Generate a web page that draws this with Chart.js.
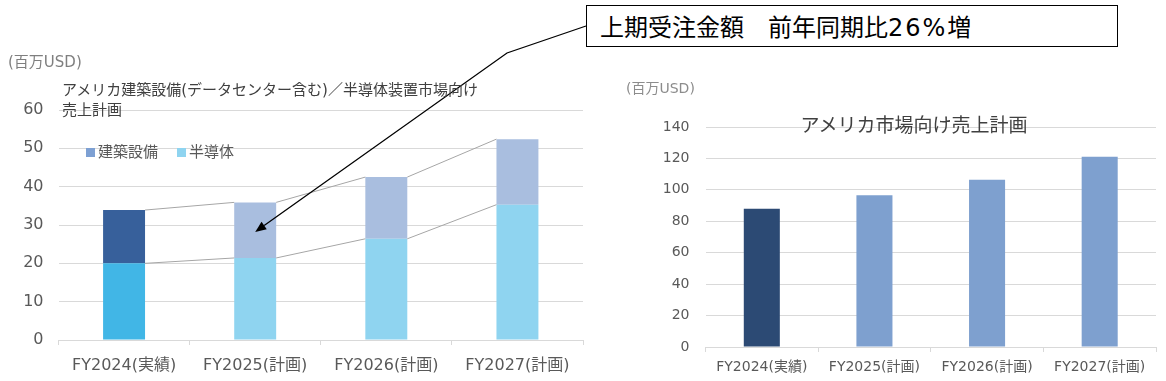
<!DOCTYPE html>
<html>
<head>
<meta charset="utf-8">
<script src="https://cdn.jsdelivr.net/npm/chart.js@4.4.1/dist/chart.umd.min.js"></script>
<style>
  html, body { margin: 0; padding: 0; background: #fff; }
  body { width: 1166px; height: 381px; position: relative; overflow: hidden;
         font-family: "DejaVu Sans", "Noto Sans CJK JP", sans-serif; }
  .abs { position: absolute; white-space: nowrap; }
  .cjk { font-family: "Noto Sans CJK JP", sans-serif; }
  #leftWrap { position: absolute; left: 0; top: 0; width: 590px; height: 381px; }
  #rightWrap { position: absolute; left: 590px; top: 0; width: 576px; height: 381px; }
  .legItem { position: absolute; top: 142px; height: 18px; line-height: 18px; font-size: 15px; color: #595959;
             font-family: "Noto Sans CJK JP", sans-serif; }
  .legItem i { display: inline-block; width: 9px; height: 9px; margin-right: 3px; vertical-align: 0px; }
  #callout { position: absolute; left: 586px; top: 5px; width: 532px; height: 42px; box-sizing: border-box;
             border: 1.5px solid #000; font-size: 24px; line-height: 39px; padding-left: 13px; color: #000; background: #fff; }
  #callout .num { letter-spacing: 2px; }
</style>
</head>
<body>
<div id="leftWrap"><canvas id="leftChart" width="590" height="381"></canvas></div>
<div id="rightWrap"><canvas id="rightChart" width="576" height="381"></canvas></div>

<div class="abs" style="left:8px; top:52px; font-size:15px; line-height:20px; color:#7f7f7f;">(百万USD)</div>
<div class="abs" style="left:62px; top:80px; font-size:15px; line-height:20px; color:#404040;">アメリカ建築設備(データセンター含む)／半導体装置市場向け<br>売上計画</div>
<div id="legend"></div>

<div class="abs" style="left:626px; top:78px; font-size:14px; line-height:20px; color:#8c8c8c;">(百万USD)</div>
<div class="abs cjk" style="left:914px; top:111px; transform:translateX(-50%); font-size:19px; line-height:26px; color:#404040;">アメリカ市場向け売上計画</div>

<div id="callout" class="cjk">上期受注金額　前年同期比<span class="num" style="font-family:'DejaVu Sans'">26%</span>増</div>

<script>
// ---- data ----
const categories = ['FY2024(実績)', 'FY2025(計画)', 'FY2026(計画)', 'FY2027(計画)'];
const seriesNames = ['半導体', '建築設備'];
const semiconductor = [20, 21.4, 26.4, 35.3];
const building = [13.9, 14.5, 16.1, 17.1];
const usMarketSales = [88, 96.5, 106.5, 121];
const leftAxis = { min: 0, max: 60, step: 10 };
const rightAxis = { min: 0, max: 140, step: 20 };
const calloutValue = 28.2; // where the arrow points within FY2025 bar

// ---- colours ----
const semiColors = ['#41B6E6', '#8FD4F0', '#8FD4F0', '#8FD4F0'];
const buildColors = ['#37609B', '#A9BEDF', '#A9BEDF', '#A9BEDF'];
const legendColors = { '建築設備': '#7DA0D3', '半導体': '#8FD4F0' };
const rightColors = ['#2C4A74', '#7EA0CF', '#7EA0CF', '#7EA0CF'];

// legend (HTML)
const legendDiv = document.getElementById('legend');
const legendOrder = [['建築設備', 86], ['半導体', 177]];
legendOrder.forEach(([name, x]) => {
  const d = document.createElement('div');
  d.className = 'legItem';
  d.style.left = x + 'px';
  d.innerHTML = '<i style="background:' + legendColors[name] + '"></i>' + name;
  legendDiv.appendChild(d);
});

const tickColor = '#595959';
const gridColor = '#D9D9D9';
const fontFamily = '"DejaVu Sans", "Noto Sans CJK JP", sans-serif';

// series lines between stacked bars + annotation arrow
const seriesLinesPlugin = {
  id: 'seriesLines',
  afterDatasetsDraw(chart) {
    const ctx = chart.ctx;
    ctx.save();
    ctx.strokeStyle = '#A6A6A6';
    ctx.lineWidth = 1;
    chart.data.datasets.forEach((ds, di) => {
      const meta = chart.getDatasetMeta(di);
      for (let i = 0; i < meta.data.length - 1; i++) {
        const a = meta.data[i], b = meta.data[i + 1];
        ctx.beginPath();
        ctx.moveTo(a.x + a.width / 2, a.y);
        ctx.lineTo(b.x - b.width / 2, b.y);
        ctx.stroke();
      }
    });
    // arrow from callout box to FY2025 bar
    const xs = chart.scales.x, ys = chart.scales.y;
    const tipX = xs.getPixelForValue(1);
    const tipY = ys.getPixelForValue(calloutValue);
    const tail = [586, 26], knee = [507, 53];
    ctx.strokeStyle = '#000';
    ctx.fillStyle = '#000';
    ctx.lineWidth = 1.3;
    const ang = Math.atan2(tipY - knee[1], tipX - knee[0]);
    const headLen = 11, headW = 4.5;
    const baseX = tipX - headLen * Math.cos(ang), baseY = tipY - headLen * Math.sin(ang);
    ctx.beginPath();
    ctx.moveTo(tail[0], tail[1]);
    ctx.lineTo(knee[0], knee[1]);
    ctx.lineTo(baseX, baseY);
    ctx.stroke();
    ctx.beginPath();
    ctx.moveTo(tipX, tipY);
    ctx.lineTo(baseX + headW * Math.sin(ang), baseY - headW * Math.cos(ang));
    ctx.lineTo(baseX - headW * Math.sin(ang), baseY + headW * Math.cos(ang));
    ctx.closePath();
    ctx.fill();
    ctx.restore();
  }
};

new Chart(document.getElementById('leftChart'), {
  type: 'bar',
  data: {
    labels: categories,
    datasets: [
      { label: seriesNames[0], data: semiconductor, backgroundColor: semiColors, borderWidth: 0,
        categoryPercentage: 1, barPercentage: 0.32 },
      { label: seriesNames[1], data: building, backgroundColor: buildColors, borderWidth: 0,
        categoryPercentage: 1, barPercentage: 0.32 }
    ]
  },
  options: {
    responsive: false, animation: false,
    layout: { padding: { top: 110, right: 7, bottom: 0, left: 0 } },
    plugins: { legend: { display: false }, title: { display: false }, tooltip: { enabled: false } },
    scales: {
      x: {
        stacked: true,
        grid: { drawOnChartArea: false, drawTicks: true, tickLength: 5, color: gridColor, offset: true },
        border: { display: true, color: gridColor },
        ticks: { color: tickColor, font: { size: 16, family: fontFamily }, padding: 11, maxRotation: 0 },
        afterFit(s) { s.height = 41; }
      },
      y: {
        stacked: true, min: leftAxis.min, max: leftAxis.max,
        ticks: { stepSize: leftAxis.step, color: tickColor, font: { size: 16, family: fontFamily }, padding: 15 },
        grid: { color: gridColor, drawTicks: false },
        border: { display: false },
        afterFit(s) { s.width = 58.5; }
      }
    }
  },
  plugins: [seriesLinesPlugin]
});

new Chart(document.getElementById('rightChart'), {
  type: 'bar',
  data: {
    labels: categories,
    datasets: [
      { label: 'アメリカ市場向け売上', data: usMarketSales, backgroundColor: rightColors, borderWidth: 0,
        categoryPercentage: 1, barPercentage: 0.32 }
    ]
  },
  options: {
    responsive: false, animation: false,
    layout: { padding: { top: 127, right: 10, bottom: 0, left: 0 } },
    plugins: { legend: { display: false }, title: { display: false }, tooltip: { enabled: false } },
    scales: {
      x: {
        grid: { drawOnChartArea: false, drawTicks: true, tickLength: 5, color: gridColor, offset: true },
        border: { display: true, color: gridColor },
        ticks: { color: tickColor, font: { size: 14, family: fontFamily }, padding: 7, maxRotation: 0 },
        afterFit(s) { s.height = 34; }
      },
      y: {
        min: rightAxis.min, max: rightAxis.max,
        ticks: { stepSize: rightAxis.step, color: tickColor, font: { size: 14, family: fontFamily }, padding: 16 },
        grid: { color: gridColor, drawTicks: false },
        border: { display: false },
        afterFit(s) { s.width = 115.5; }
      }
    }
  }
});
</script>
</body>
</html>
